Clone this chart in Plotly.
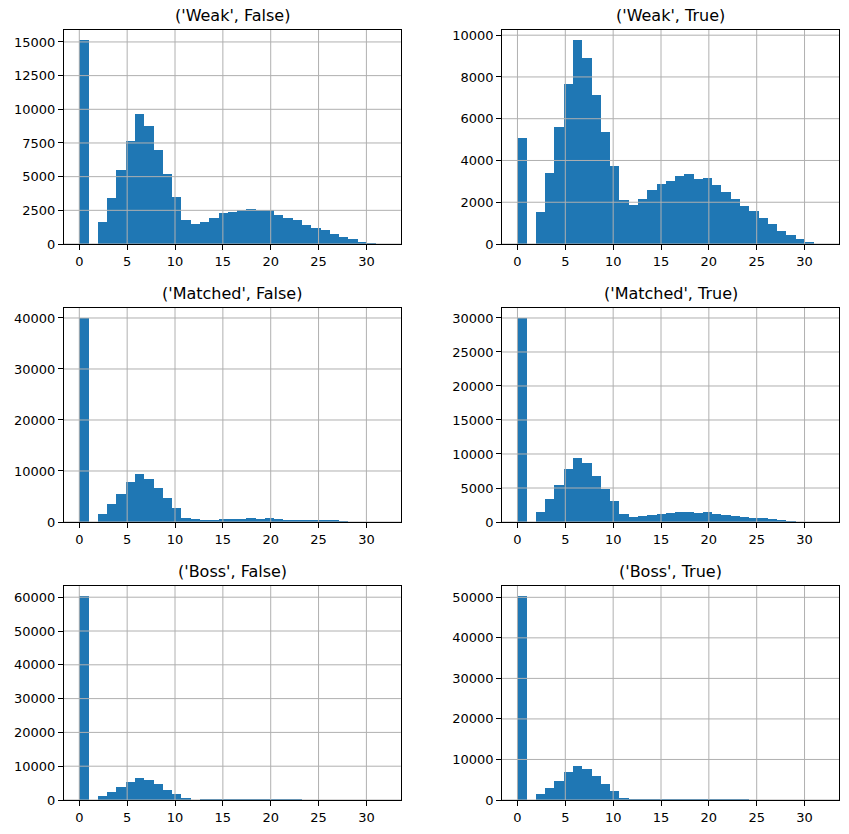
import numpy as np
import plotly.graph_objects as go
from plotly.subplots import make_subplots

# ---- data (counts per bin; 33 bins spanning 0..32) ----
titles = ["('Weak', False)", "('Weak', True)",
          "('Matched', False)", "('Matched', True)",
          "('Boss', False)", "('Boss', True)"]

weak_false = [15130, 0, 1600, 3430, 5500, 7650, 9650, 8760, 6985, 5210, 3500, 1750, 1500,
              1650, 1950, 2270, 2340, 2490, 2620, 2490, 2490, 2170, 1950, 1750, 1430, 1210,
              1010, 765, 490, 345, 170, 100, 0]
weak_true = [5080, 0, 1545, 3410, 5600, 7660, 9760, 8900, 7120, 5350, 3740, 2120, 1880,
             2150, 2600, 2880, 3020, 3260, 3360, 3100, 3150, 2830, 2500, 2165, 1830, 1590,
             1260, 970, 640, 445, 255, 95, 0]
matched_false = [39960, 0, 1630, 3600, 5560, 7780, 9480, 8500, 6730, 4770, 2810, 850, 520,
                 480, 480, 650, 650, 650, 850, 650, 850, 650, 480, 480, 460, 300, 300, 300,
                 250, 0, 0, 0, 0]
matched_true = [29970, 0, 1520, 3430, 5490, 7840, 9460, 8720, 6810, 4900, 3140, 1230, 780,
                930, 1080, 1230, 1370, 1520, 1520, 1370, 1520, 1230, 1080, 930, 780, 640, 640,
                490, 340, 200, 0, 0, 0]
boss_false = [60300, 0, 1280, 2460, 3940, 5420, 6600, 6010, 4830, 3050, 1870, 690, 0,
              350, 350, 350, 350, 350, 350, 350, 350, 350, 350, 350,
              0, 0, 0, 0, 0, 0, 0, 0, 0]
boss_true = [50280, 0, 1560, 3040, 4760, 6980, 8460, 7720, 5990, 4020, 2300, 575,
             330, 330, 330, 330, 330, 330, 330, 330, 330, 330, 330, 330, 330,
             0, 0, 0, 0, 0, 0, 0, 0]

series = [weak_false, weak_true, matched_false, matched_true, boss_false, boss_true]
ytick_steps = [2500, 2000, 10000, 5000, 10000, 10000]
xticks = [0, 5, 10, 15, 20, 25, 30]

# ---- styling ----
BLUE = "#1f77b4"
GRID = "#b0b0b0"
FONT = "DejaVu Sans"

x_min, x_max, n_bins = 0, 32, 33
edges = np.linspace(x_min, x_max, n_bins + 1)
bw = edges[1] - edges[0]
pad = 0.05 * (x_max - x_min)

fig = make_subplots(rows=3, cols=2, horizontal_spacing=0.1307, vertical_spacing=0.0831,
                    subplot_titles=titles)

shapes = []
for i, counts in enumerate(series):
    r, c = i // 2 + 1, i % 2 + 1
    fig.add_trace(go.Bar(x=edges[:-1], y=counts, width=bw, offset=0,
                         marker=dict(color=BLUE, line=dict(width=0)),
                         showlegend=False, hoverinfo="x+y"), row=r, col=c)
    ymax = max(counts) * 1.05
    step = ytick_steps[i]
    yticks = [int(v) for v in np.arange(0, ymax + 1e-9, step)]
    fig.update_xaxes(range=[x_min - pad, x_max + pad], tickvals=xticks,
                     ticktext=[str(v) for v in xticks], row=r, col=c)
    fig.update_yaxes(range=[0, ymax], tickvals=yticks,
                     ticktext=[str(v) for v in yticks], row=r, col=c)
    idx = "" if i == 0 else str(i + 1)
    xref, yref = "x" + idx, "y" + idx
    for xv in xticks:
        shapes.append(dict(type="line", xref=xref, yref=yref + " domain",
                           x0=xv, x1=xv, y0=0, y1=1, layer="above",
                           line=dict(color=GRID, width=1)))
    for yv in yticks:
        shapes.append(dict(type="line", xref=xref + " domain", yref=yref,
                           x0=0, x1=1, y0=yv, y1=yv, layer="above",
                           line=dict(color=GRID, width=1)))

axis_style = dict(showgrid=False, zeroline=False, showline=True, mirror=True,
                  linecolor="black", linewidth=1, ticks="outside", ticklen=5,
                  tickwidth=1, tickcolor="black",
                  tickfont=dict(family=FONT, size=13, color="black"))
fig.update_xaxes(**axis_style)
fig.update_yaxes(**axis_style)

for ann in fig.layout.annotations:
    ann.font = dict(family=FONT, size=16, color="black")
    ann.yshift = 3

fig.update_layout(width=849, height=834, margin=dict(l=64, r=10, t=30, b=34),
                  plot_bgcolor="white", paper_bgcolor="white", bargap=0,
                  shapes=shapes, font=dict(family=FONT))

fig.write_html("out.html")
